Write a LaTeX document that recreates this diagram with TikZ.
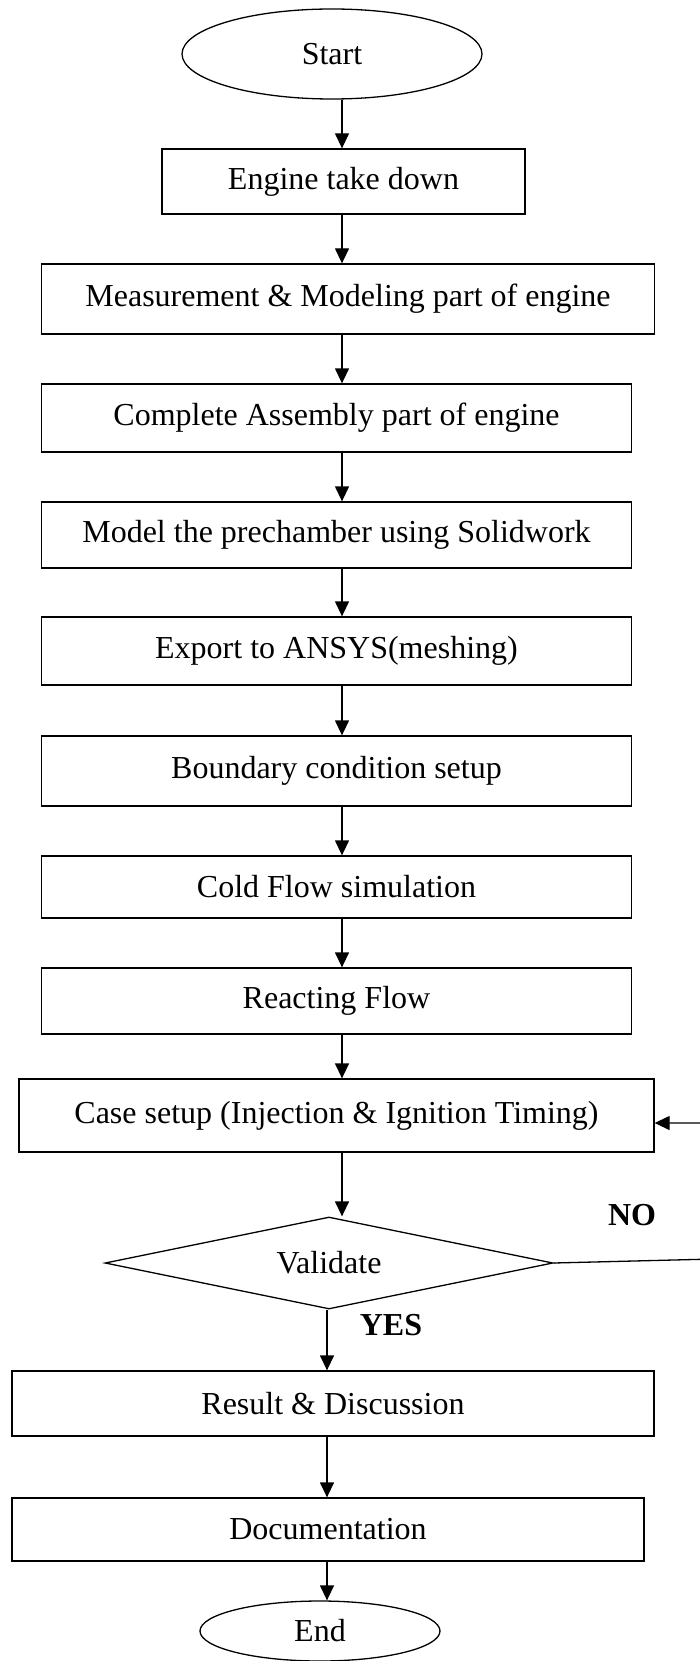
\documentclass[tikz,border=0pt]{standalone}
\usepackage{fontspec}
\setmainfont{Liberation Serif}
\usetikzlibrary{shapes.geometric,arrows.meta}
\begin{document}
\begin{tikzpicture}[x=1pt,y=-1pt,
  every node/.style={font=\fontsize{32}{38}\selectfont},
  box/.style={draw,line width=1.3pt,rectangle,inner sep=0pt},
  oval/.style={draw,line width=1.3pt,ellipse,inner sep=0pt},
  arr/.style={line width=1.3pt,-{Triangle[length=15pt,width=14pt]}},
  lbl/.style={font=\fontsize{32}{38}\selectfont\bfseries}]
\useasboundingbox (0,0) rectangle (700,1661);
\coordinate (ax) at (342,0);
\coordinate (bx) at (327,0);
\node[oval,minimum width=300pt,minimum height=90pt] (start) at (332,54) {Start};
\node[box,minimum width=363pt,minimum height=65pt] (engine) at (343.5,181.5) {Engine take down};
\node[box,minimum width=613pt,minimum height=70pt] (measure) at (348,299) {Measurement \& Modeling part of engine};
\node[box,minimum width=590pt,minimum height=68pt] (complete) at (336.5,418) {Complete Assembly part of engine};
\node[box,minimum width=590pt,minimum height=66pt] (model) at (336.5,535) {Model the prechamber using Solidwork};
\node[box,minimum width=590pt,minimum height=68pt] (export) at (336.5,651) {Export to ANSYS(meshing)};
\node[box,minimum width=590pt,minimum height=70pt] (boundary) at (336.5,771) {Boundary condition setup};
\node[box,minimum width=590pt,minimum height=62pt] (cold) at (336.5,887) {Cold Flow simulation};
\node[box,minimum width=590pt,minimum height=66pt] (react) at (336.5,1001) {Reacting Flow};
\node[box,minimum width=635pt,minimum height=73pt] (case) at (336.5,1115.5) {Case setup (Injection \& Ignition Timing)};
\node[draw,line width=1.3pt,diamond,aspect=4.87,inner sep=0pt,minimum width=448pt,minimum height=92pt] (dia) at (329,1263) {Validate};
\node[box,minimum width=642pt,minimum height=65pt] (result) at (333,1403.5) {Result \& Discussion};
\node[box,minimum width=632pt,minimum height=63pt] (doc) at (328,1529.5) {Documentation};
\node[oval,minimum width=240pt,minimum height=60pt] (end) at (320,1631) {End};
\node[lbl] (no) at (632,1215) {NO};
\node[lbl] (yes) at (391,1325) {YES};
\draw[arr] (start.south -| ax) -- (engine.north -| ax);
\draw[arr] (engine.south -| ax) -- (measure.north -| ax);
\draw[arr] (measure.south -| ax) -- (complete.north -| ax);
\draw[arr] (complete.south -| ax) -- (model.north -| ax);
\draw[arr] (model.south -| ax) -- (export.north -| ax);
\draw[arr] (export.south -| ax) -- (boundary.north -| ax);
\draw[arr] (boundary.south -| ax) -- (cold.north -| ax);
\draw[arr] (cold.south -| ax) -- (react.north -| ax);
\draw[arr] (react.south -| ax) -- (case.north -| ax);
\draw[arr] (case.south -| ax) -- (dia.north -| ax);
\draw[arr] (dia.south -| bx) -- (result.north -| bx);
\draw[arr] (result.south -| bx) -- (doc.north -| bx);
\draw[arr] (doc.south -| bx) -- (end.north -| bx);
\draw[arr] (dia.east) -- ++(160,-4) |- ([yshift=-7.5pt]case.east);
\end{tikzpicture}
\end{document}
